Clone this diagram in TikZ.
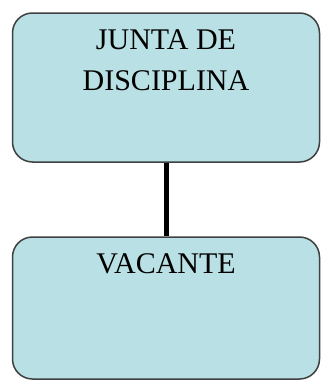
\documentclass[tikz,border=0pt]{standalone}
\usepackage{fontspec}
\setmainfont{Liberation Serif}
\definecolor{boxfill}{HTML}{B9E0E4}
\definecolor{boxline}{HTML}{404040}
\tikzset{
  unit/.style={draw=boxline, line width=1.5pt, fill=boxfill, rounded corners=20pt,
    inner xsep=0pt, inner ysep=17pt, font=\fontsize{30}{41}\selectfont},
  link/.style={line width=5pt, black}
}
\newcommand{\unittext}[2]{\parbox[t][#1][t]{307pt}{\centering #2}}
\begin{document}
\begin{tikzpicture}[x=1pt,y=-1pt]
   \useasboundingbox (0,0) rectangle (321,380);
   \node[unit] (junta) at (166,87.5) {\unittext{115pt}{JUNTA DE\\DISCIPLINA}};
   \node[unit] (vacante) at (166,308) {\unittext{108pt}{VACANTE}};
   \draw[link] (junta.south) -- (vacante.north);
\end{tikzpicture}
\end{document}
